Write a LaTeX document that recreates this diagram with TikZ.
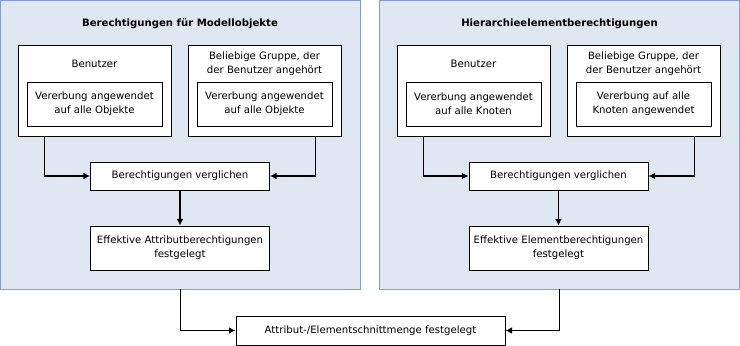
\documentclass[tikz,border=0pt]{standalone}
\usepackage{fontspec}
\setmainfont{DejaVu Sans}
\usepackage{tikz}
\usetikzlibrary{positioning,calc}
\usetikzlibrary{arrows.meta}
\definecolor{PanelFill}{RGB}{223,231,242}
\definecolor{PanelEdge}{RGB}{126,158,212}
\tikzset{
  panel/.style={draw=PanelEdge,fill=PanelFill,line width=0.6pt,inner sep=0pt,
    minimum width=269.6pt,minimum height=216.4pt},
  box/.style={draw=black,fill=white,line width=0.6pt,inner sep=0pt,align=center},
  outer/.style={box,minimum width=114.75pt,minimum height=68.25pt},
  inner/.style={box,minimum width=101.25pt,minimum height=33pt},
  step2/.style={box,minimum width=134.25pt,minimum height=21pt},
  step3/.style={box,minimum width=134.25pt,minimum height=33pt},
  txt/.style={align=center,inner sep=0pt},
  ttl/.style={txt,font=\fontsize{7.6}{10.5}\selectfont\bfseries},
}
\tikzset{arr/.style={draw=black,line width=1.1pt,-{Latex[length=5pt,width=5pt]}}}

\begin{document}
\begin{tikzpicture}[x=0.75pt,y=-0.75pt,font=\fontsize{7.6}{10.5}\selectfont]
\useasboundingbox (0,0) rectangle (740,346);
% left panel: model objects
\node[panel] (lpan) at (180.25,144.75) {};
\node[ttl] (lttl) at (180,24) {Berechtigungen für Modellobjekte};
\node[outer] (lusr) at (94.5,90.5) {};
\node[txt] (lusrtxt) at (94.5,64) {Benutzer};
\node[inner] (lusrin) at (94.5,104) {Vererbung angewendet\\auf alle Objekte};
\node[outer] (lgrp) at (264.5,90.5) {};
\node[txt] (lgrptxt) at (264.5,64) {Beliebige Gruppe, der\\der Benutzer angehört};
\node[inner] (lgrpin) at (264.5,104) {Vererbung angewendet\\auf alle Objekte};
\node[step2] (lcmp) at (180,176) {Berechtigungen verglichen};
\node[step3] (leff) at (180,248) {Effektive Attributberechtigungen\\festgelegt};
% right panel: hierarchy elements
\node[panel] (rpan) at (559.5,144.75) {};
\node[ttl] (rttl) at (559.5,24) {Hierarchieelementberechtigungen};
\node[outer] (rusr) at (473.5,90.5) {};
\node[txt] (rusrtxt) at (473.5,64) {Benutzer};
\node[inner] (rusrin) at (473.5,104) {Vererbung angewendet\\auf alle Knoten};
\node[outer] (rgrp) at (643.5,90.5) {};
\node[txt] (rgrptxt) at (643.5,64) {Beliebige Gruppe, der\\der Benutzer angehört};
\node[inner] (rgrpin) at (643.5,104) {Vererbung auf alle\\Knoten angewendet};
\node[step2] (rcmp) at (558.5,176) {Berechtigungen verglichen};
\node[step3] (reff) at (558.5,248) {Effektive Elementberechtigungen\\festgelegt};
% result
\node[box,minimum width=201.75pt,minimum height=21.75pt] (res) at (370.5,330.5) {Attribut-/Elementschnittmenge festgelegt};
\draw[arr] ([xshift=20.25pt]lusr.south west) |- (lcmp.west);
\draw[arr] ([xshift=-19.5pt]lgrp.south east) |- (lcmp.east);
\draw[arr] (lcmp) -- (leff);
\draw[arr] ([xshift=20.25pt]rusr.south west) |- (rcmp.west);
\draw[arr] ([xshift=-19.5pt]rgrp.south east) |- (rcmp.east);
\draw[arr] (rcmp) -- (reff);
\draw[arr] (lpan.south) |- (res.west);
\draw[arr] (rpan.south) |- (res.east);
\end{tikzpicture}
\end{document}
